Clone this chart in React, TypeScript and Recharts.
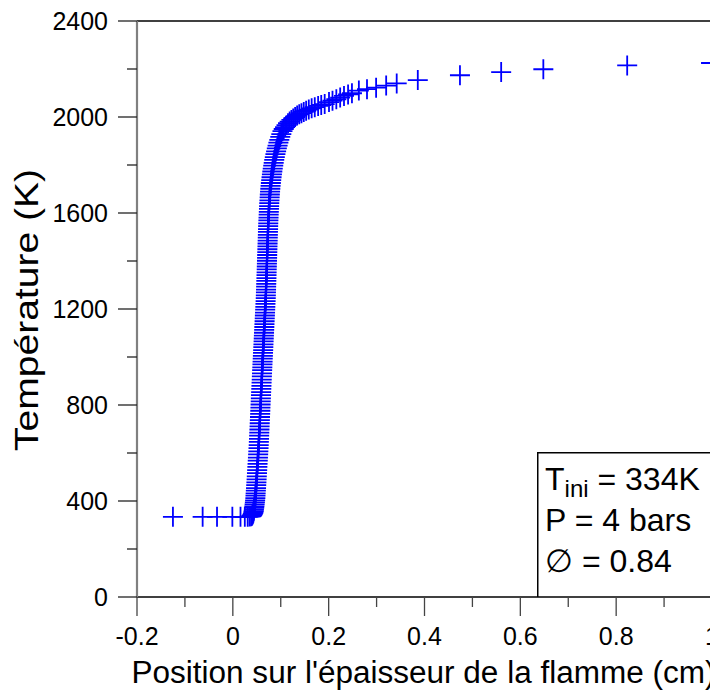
import React from 'react';
import { ScatterChart, Scatter, XAxis, YAxis, ReferenceLine, Label } from 'recharts';

const FONT = '"Liberation Sans", Arial, Helvetica, sans-serif';

// Position (cm) of each grid point
const positionsCm = [
  -0.125, -0.063, -0.033, -0.001, 0.016, 0.025, 0.031, 0.035, 0.038,
  0.04, 0.041, 0.042, 0.043, 0.0435, 0.044, 0.0445, 0.045, 0.0455, 0.046,
  0.0465, 0.047, 0.0473, 0.0476, 0.048, 0.0484, 0.0488, 0.0492, 0.0496, 0.05,
  0.0504, 0.0508, 0.0512, 0.0516, 0.052, 0.0524, 0.0528, 0.0532, 0.0536, 0.054,
  0.0543, 0.0546, 0.0549, 0.0552, 0.0555, 0.0558, 0.0561, 0.0564, 0.0567, 0.057,
  0.0573, 0.0576, 0.0579, 0.0582, 0.0585, 0.0588, 0.0591, 0.0594, 0.0597, 0.06,
  0.0603, 0.0606, 0.0609, 0.0612, 0.0615, 0.0618, 0.0621, 0.0624, 0.0627, 0.063,
  0.0633, 0.0636, 0.0639, 0.0642, 0.0645, 0.0648, 0.0651, 0.0654, 0.0657, 0.066,
  0.0663, 0.0666, 0.0669, 0.0672, 0.0675, 0.0678, 0.0681, 0.0684, 0.0687, 0.0689,
  0.0691, 0.0693, 0.0695, 0.0697, 0.0699, 0.0701, 0.0703, 0.0705, 0.0707, 0.0709,
  0.0711, 0.0713, 0.0715, 0.0717, 0.0719, 0.0721, 0.0723, 0.0725, 0.0727, 0.0729,
  0.0731, 0.0733, 0.0735, 0.0737, 0.0739, 0.0742, 0.0745, 0.0748, 0.0751, 0.0754,
  0.0757, 0.076, 0.0764, 0.0768, 0.0772, 0.0777, 0.0782, 0.0788, 0.0794, 0.0801,
  0.0808, 0.0816, 0.0824, 0.0833, 0.0843, 0.0853, 0.0864, 0.0876, 0.0889, 0.0903,
  0.0918, 0.0934, 0.0951, 0.097, 0.099, 0.1012, 0.1036, 0.1062, 0.109, 0.112,
  0.1152, 0.1186, 0.1222, 0.126, 0.13, 0.1342, 0.1386, 0.1432, 0.148, 0.153,
  0.1585, 0.1645, 0.171, 0.178, 0.1845, 0.1917, 0.2007, 0.208, 0.216, 0.224,
  0.232, 0.2405, 0.2486, 0.263, 0.28, 0.299, 0.32, 0.342, 0.386, 0.474,
  0.56, 0.648, 0.823, 0.998,
];

// Temperature (K) at each grid point
const temperaturesK = [
  334, 334, 334, 334, 334, 334, 334, 335, 336,
  339, 343, 347, 352, 358, 364, 371, 378, 386, 394,
  403, 412, 422, 432, 443, 454, 466, 478, 490, 503,
  516, 529, 542, 555, 568, 581, 594, 607, 620, 633,
  646, 659, 672, 685, 698, 711, 724, 737, 750, 763,
  776, 789, 802, 815, 828, 841, 854, 867, 880, 893,
  906, 919, 932, 945, 957, 969, 981, 993, 1005, 1017,
  1029, 1041, 1053, 1065, 1077, 1089, 1101, 1113, 1125, 1137,
  1149, 1161, 1173, 1185, 1197, 1209, 1221, 1233, 1245, 1257,
  1269, 1281, 1293, 1305, 1317, 1329, 1341, 1353, 1365, 1377,
  1389, 1401, 1413, 1425, 1437, 1449, 1461, 1473, 1485, 1497,
  1509, 1521, 1533, 1545, 1557, 1569, 1581, 1593, 1605, 1617,
  1629, 1641, 1653, 1665, 1677, 1689, 1701, 1713, 1725, 1737,
  1749, 1761, 1773, 1785, 1797, 1809, 1821, 1833, 1845, 1857,
  1869, 1881, 1893, 1905, 1917, 1929, 1941, 1950, 1958, 1966,
  1974, 1981, 1988, 1994, 2000, 2006, 2011, 2016, 2021, 2026,
  2031, 2036, 2041, 2046, 2050, 2054, 2062, 2068, 2074, 2081,
  2088, 2094, 2099, 2110, 2116, 2122, 2131, 2140, 2154, 2174,
  2187, 2199, 2215, 2225,
];

const xTicks = [-0.2, -0.1, 0, 0.1, 0.2, 0.3, 0.4, 0.5, 0.6, 0.7, 0.8, 0.9, 1];
const xTickLabels = ['-0.2', '', '0', '', '0.2', '', '0.4', '', '0.6', '', '0.8', '', '1'];
const yTicks = [0, 200, 400, 600, 800, 1000, 1200, 1400, 1600, 1800, 2000, 2200, 2400];
const yTickLabels = ['0', '', '400', '', '800', '', '1200', '', '1600', '', '2000', '', '2400'];

const data = positionsCm.map((x, i) => ({ x, y: temperaturesK[i] }));

const Cross = (props: any) => {
  const { cx, cy } = props;
  if (cx == null || cy == null) return null;
  return (
    <path
      d={`M${cx - 10},${cy}H${cx + 10}M${cx},${cy - 10}V${cy + 10}`}
      stroke="#0000ff"
      strokeWidth={1.8}
      fill="none"
    />
  );
};

const findIdx = (arr: number[], v: number) => arr.findIndex((t) => Math.abs(t - v) < 1e-9);

const XTick = (props: any) => {
  const { x, y, payload } = props;
  const i = findIdx(xTicks, payload.value);
  const label = i >= 0 ? xTickLabels[i] : '';
  const major = label !== '';
  return (
    <g>
      <line x1={x} x2={x} y1={y} y2={y + (major ? 19 : 10)} stroke="#444" strokeWidth={1.3} />
      {major && (
        <text x={x} y={y + 48} textAnchor="middle" fontSize={25} fontFamily={FONT} fill="#000">
          {label}
        </text>
      )}
    </g>
  );
};

const YTick = (props: any) => {
  const { x, y, payload } = props;
  const i = findIdx(yTicks, payload.value);
  const label = i >= 0 ? yTickLabels[i] : '';
  const major = label !== '';
  return (
    <g>
      <line x1={x - (major ? 19 : 10)} x2={x} y1={y} y2={y} stroke="#222" strokeWidth={1.3} />
      {major && (
        <text x={x - 29} y={y} dy="0.36em" textAnchor="end" fontSize={25} fontFamily={FONT} fill="#000">
          {label}
        </text>
      )}
    </g>
  );
};

const YTitle = (props: any) => {
  const vb = props.viewBox || { x: 0, y: 13, width: 129, height: 576 };
  const cx = 30;
  const cy = vb.y + vb.height / 2 + 1;
  return (
    <text
      x={cx}
      y={cy}
      transform={`rotate(-90 ${cx} ${cy})`}
      textAnchor="middle"
      fontSize={33}
      textLength={282}
      lengthAdjust="spacingAndGlyphs"
      fontFamily={FONT}
      fill="#000"
    >
      Température (K)
    </text>
  );
};

const XTitle = (props: any) => {
  const vb = props.viewBox || { x: 129, y: 589, width: 575, height: 103 };
  return (
    <text
      x={415.5}
      y={vb.y + 86}
      textAnchor="middle"
      fontSize={31}
      textLength={584}
      lengthAdjust="spacingAndGlyphs"
      fontFamily={FONT}
      fill="#000"
    >
      Position sur l'épaisseur de la flamme (cm)
    </text>
  );
};

export default function App() {
  return (
    <div style={{ position: 'relative', width: 710, height: 692, fontFamily: FONT }}>
      <ScatterChart width={710} height={692} margin={{ top: 13, right: 6, bottom: 0, left: 0 }}>
        <XAxis
          type="number"
          dataKey="x"
          domain={[-0.2, 1]}
          ticks={xTicks}
          interval={0}
          tickSize={0}
          tickMargin={0}
          tick={<XTick />}
          tickLine={false}
          axisLine={{ stroke: '#000', strokeWidth: 1.5 }}
          height={103}
          allowDataOverflow
        >
          <Label content={<XTitle />} />
        </XAxis>
        <YAxis
          type="number"
          dataKey="y"
          domain={[0, 2400]}
          ticks={yTicks}
          interval={0}
          tickSize={0}
          tickMargin={0}
          tick={<YTick />}
          tickLine={false}
          axisLine={{ stroke: '#808080', strokeWidth: 2.2 }}
          width={129}
          allowDataOverflow
        >
          <Label content={<YTitle />} />
        </YAxis>
        <ReferenceLine y={2400} stroke="#000" strokeWidth={1.5} />
        <ReferenceLine x={1} stroke="#808080" strokeWidth={2.2} />
        <Scatter data={data} shape={<Cross />} isAnimationActive={false} />
      </ScatterChart>
      <svg
        width={176}
        height={146}
        style={{ position: 'absolute', left: 529, top: 444, overflow: 'visible' }}
      >
        <line x1={0.75} y1={0} x2={0.75} y2={145} stroke="#000" strokeWidth={1.5} />
        <line x1={0} y1={0.75} x2={175} y2={0.75} stroke="#000" strokeWidth={1.5} />
        <text x={8} y={38} fontSize={32} fontFamily={FONT} fill="#000">
          T<tspan fontSize={24} dy={7}>ini</tspan>
          <tspan dy={-7}> = 334K</tspan>
        </text>
        <text x={8} y={79} fontSize={32} fontFamily={FONT} fill="#000">
          P = 4 bars
        </text>
        <text x={8} y={120} fontSize={32} fontFamily={FONT} fill="#000">
          ∅ = 0.84
        </text>
      </svg>
    </div>
  );
}
